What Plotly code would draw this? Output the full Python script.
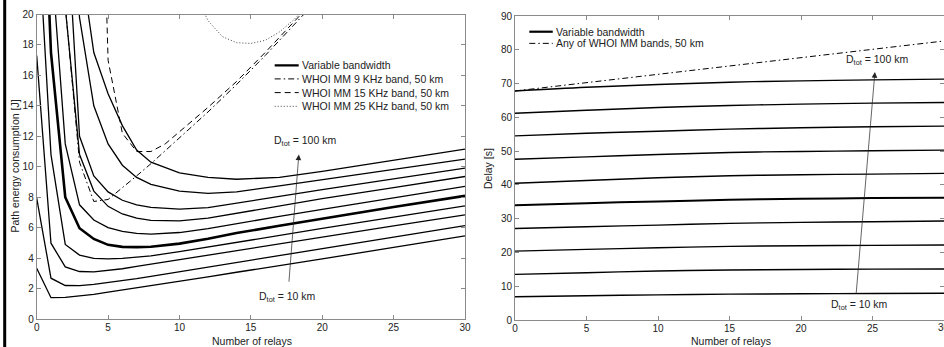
import plotly.graph_objects as go

# ---------------- data ----------------
relays = [0, 1, 2, 3, 4, 5, 6, 7, 8, 10, 12, 14, 17, 20, 25, 30]
dist_km = [10, 20, 30, 40, 50, 60, 70, 80, 90, 100]

energy_10 = [3.33, 1.40, 1.42, 1.50, 1.62, 1.76, 1.90, 2.04, 2.18, 2.46, 2.76, 3.07, 3.50, 3.95, 4.70, 5.46]
energy_20 = [7.94, 2.68, 2.20, 2.19, 2.27, 2.38, 2.51, 2.65, 2.80, 3.10, 3.41, 3.72, 4.17, 4.62, 5.38, 6.14]
energy_30 = [17.3, 4.98, 3.42, 3.12, 3.10, 3.18, 3.30, 3.45, 3.60, 3.90, 4.20, 4.51, 4.95, 5.39, 6.12, 6.84]
energy_40 = [27.2, 10.8, 4.90, 4.20, 3.98, 3.95, 3.98, 4.05, 4.15, 4.42, 4.73, 5.06, 5.50, 5.95, 6.69, 7.43]
energy_50 = [40.0, 17.5, 8.00, 5.96, 5.26, 4.87, 4.74, 4.72, 4.75, 4.95, 5.27, 5.65, 6.12, 6.60, 7.36, 8.09]
energy_60 = [80.0, 24.0, 11.5, 7.50, 6.50, 6.00, 5.75, 5.62, 5.58, 5.68, 5.93, 6.26, 6.74, 7.20, 7.95, 8.71]
energy_70 = [150., 45.0, 20.5, 10.8, 8.40, 7.40, 6.90, 6.62, 6.48, 6.45, 6.62, 6.95, 7.45, 7.90, 8.63, 9.36]
energy_80 = [250., 80.0, 28.0, 12.0, 9.40, 8.35, 7.80, 7.50, 7.33, 7.22, 7.32, 7.60, 8.05, 8.50, 9.20, 9.91]
energy_90 = [400., 120., 32.0, 19.8, 14.0, 11.5, 10.1, 9.30, 8.85, 8.40, 8.25, 8.35, 8.75, 9.15, 9.85, 10.5]
energy_100 = [600., 200., 50.0, 24.0, 17.5, 14.8, 12.7, 11.1, 10.3, 9.60, 9.30, 9.18, 9.30, 9.70, 10.45, 11.16]
energy_curves = [energy_10, energy_20, energy_30, energy_40, energy_50,
                 energy_60, energy_70, energy_80, energy_90, energy_100]

whoi9_relays = [1, 2, 3, 4, 5, 6, 7, 8, 10, 12, 14, 16, 18, 19]
whoi9_energy = [60.0, 20.6, 10.3, 7.72, 7.85, 8.6, 9.4, 10.2, 11.9, 13.6, 15.4, 17.3, 19.3, 20.3]
whoi15_relays = [4, 5, 6, 7, 8, 9, 10, 12, 14, 16, 18, 19]
whoi15_energy = [50.0, 17.0, 12.2, 11.0, 11.0, 11.5, 12.3, 13.9, 15.6, 17.5, 19.5, 20.5]
whoi25_relays = [11, 12, 13, 14, 15, 16, 17, 18, 19]
whoi25_energy = [21.5, 19.6, 18.55, 18.15, 18.1, 18.3, 18.85, 19.65, 20.6]

delay_relays = [0, 5, 10, 15, 20, 25, 30]
delay_10 = [6.9, 7.2, 7.45, 7.65, 7.75, 7.85, 7.9]
delay_20 = [13.5, 14.0, 14.5, 14.8, 14.95, 15.05, 15.1]
delay_30 = [20.4, 20.9, 21.4, 21.8, 22.0, 22.1, 22.2]
delay_40 = [27.1, 27.6, 28.1, 28.6, 28.9, 29.1, 29.3]
delay_50 = [34.0, 34.6, 35.1, 35.6, 35.9, 36.1, 36.2]
delay_60 = [40.5, 41.3, 42.1, 42.7, 43.0, 43.2, 43.4]
delay_70 = [47.6, 48.3, 49.0, 49.6, 49.9, 50.1, 50.3]
delay_80 = [54.5, 55.3, 55.9, 56.5, 56.9, 57.2, 57.4]
delay_90 = [61.2, 62.1, 62.9, 63.5, 63.9, 64.2, 64.4]
delay_100 = [67.8, 68.9, 69.7, 70.4, 70.8, 71.1, 71.3]
delay_curves = [delay_10, delay_20, delay_30, delay_40, delay_50,
                delay_60, delay_70, delay_80, delay_90, delay_100]
whoi_delay_relays = [0, 30]
whoi_delay = [67.8, 82.6]

x_ticks = [0, 5, 10, 15, 20, 25, 30]
energy_ticks = [0, 2, 4, 6, 8, 10, 12, 14, 16, 18, 20]
delay_ticks = [0, 10, 20, 30, 40, 50, 60, 70, 80, 90]

legend_left = ["Variable bandwidth", "WHOI MM 9 KHz band, 50 km",
               "WHOI MM 15 KHz band, 50 km", "WHOI MM 25 KHz band, 50 km"]
legend_right = ["Variable bandwidth", "Any of WHOI MM bands, 50 km"]

# ---------------- figure ----------------
W, H = 944, 347
FONT = "Liberation Sans, Arial, Helvetica, sans-serif"
DASHDOT = "6px,3px,1.5px,3px"
DASH = "6px,4px"
DOT = "1px,2px"

fig = go.Figure()

for d, ys in zip(dist_km, energy_curves):
    fig.add_trace(go.Scatter(x=relays, y=ys, mode="lines", xaxis="x", yaxis="y",
                             line=dict(color="black", width=2.6 if d == 50 else 1.3),
                             showlegend=False, name=f"{d} km"))
fig.add_trace(go.Scatter(x=whoi9_relays, y=whoi9_energy, mode="lines", xaxis="x", yaxis="y",
                         line=dict(color="black", width=1, dash=DASHDOT), showlegend=False))
fig.add_trace(go.Scatter(x=whoi15_relays, y=whoi15_energy, mode="lines", xaxis="x", yaxis="y",
                         line=dict(color="black", width=1, dash=DASH), showlegend=False))
fig.add_trace(go.Scatter(x=whoi25_relays, y=whoi25_energy, mode="lines", xaxis="x", yaxis="y",
                         line=dict(color="#444", width=1, dash=DOT), showlegend=False))

for d, ys in zip(dist_km, delay_curves):
    fig.add_trace(go.Scatter(x=delay_relays, y=ys, mode="lines", xaxis="x2", yaxis="y2",
                             line=dict(color="black", width=2.0 if d == 50 else 1.4),
                             line_shape="spline", showlegend=False, name=f"{d} km"))
fig.add_trace(go.Scatter(x=whoi_delay_relays, y=whoi_delay, mode="lines", xaxis="x2", yaxis="y2",
                         line=dict(color="black", width=1, dash=DASHDOT), showlegend=False))

axis_common = dict(showline=True, linecolor="#8a8a8a", linewidth=1, mirror="ticks",
                   ticks="inside", ticklen=4, tickcolor="#8a8a8a", showgrid=False,
                   zeroline=False, tickfont=dict(family=FONT, size=10, color="#222"),
                   fixedrange=True)

def px_x(p):
    return p / W

def px_y(p):
    return (H - p) / H

fig.update_layout(
    width=W, height=H, template="none",
    margin=dict(l=0, r=0, t=0, b=0),
    paper_bgcolor="white", plot_bgcolor="white",
    font=dict(family=FONT, size=10.5, color="#222"),
    xaxis=dict(domain=[px_x(36.7), px_x(465)], range=[0, 30], tickvals=x_ticks,
               anchor="y", ticklabelstandoff=-1, **axis_common),
    yaxis=dict(domain=[px_y(319), px_y(14.5)], range=[0, 20], tickvals=energy_ticks,
               anchor="x", **axis_common),
    xaxis2=dict(domain=[px_x(515), 1.0], range=[0, 30], tickvals=x_ticks,
                anchor="y2", ticklabelstandoff=-1, **axis_common),
    yaxis2=dict(domain=[px_y(320), px_y(16)], range=[0, 90], tickvals=delay_ticks,
                anchor="x2", **axis_common),
    showlegend=False,
)

shapes = []
annotations = []

# scan artefact: black bar at the left edge
shapes.append(dict(type="rect", xref="paper", yref="paper", x0=px_x(3.2), x1=px_x(6.2),
                   y0=0, y1=1, fillcolor="black", line=dict(width=0), layer="above"))

# left legend (drawn manually)
left_rows = [16.66, 15.77, 14.87, 13.97]
left_styles = [dict(width=2.2, dash="solid", color="black"),
               dict(width=1, dash=DASHDOT, color="black"),
               dict(width=1, dash=DASH, color="black"),
               dict(width=1, dash=DOT, color="#444")]
for label, yv, st in zip(legend_left, left_rows, left_styles):
    shapes.append(dict(type="line", xref="x", yref="y", x0=16.67, x1=18.35, y0=yv, y1=yv, line=st))
    annotations.append(dict(xref="x", yref="y", x=18.42, y=yv, text=label, showarrow=False,
                            xanchor="left", yanchor="middle",
                            font=dict(family=FONT, size=10.5, color="#222")))

right_rows = [85.35, 81.9]
right_styles = [dict(width=2.2, dash="solid", color="black"),
                dict(width=1, dash=DASHDOT, color="black")]
for label, yv, st in zip(legend_right, right_rows, right_styles):
    shapes.append(dict(type="line", xref="x2", yref="y2", x0=1.0, x1=2.64, y0=yv, y1=yv, line=st))
    annotations.append(dict(xref="x2", yref="y2", x=2.72, y=yv, text=label, showarrow=False,
                            xanchor="left", yanchor="middle",
                            font=dict(family=FONT, size=10.5, color="#222")))

ann_font = dict(family=FONT, size=10.5, color="#222")
# left plot arrow and labels
annotations.append(dict(xref="x", yref="y", axref="x", ayref="y", x=18.36, y=10.8,
                        ax=17.66, ay=2.35, text="", showarrow=True, arrowhead=2,
                        arrowsize=1.6, arrowwidth=0.7, arrowcolor="#222"))
annotations.append(dict(xref="x", yref="y", x=18.76, y=11.71, text="D<sub>tot</sub> = 100 km",
                        showarrow=False, xanchor="center", yanchor="middle", font=ann_font))
annotations.append(dict(xref="x", yref="y", x=17.54, y=1.45, text="D<sub>tot</sub> = 10 km",
                        showarrow=False, xanchor="center", yanchor="middle", font=ann_font))
# right plot arrow and labels
annotations.append(dict(xref="x2", yref="y2", axref="x2", ayref="y2", x=25.17, y=73.4,
                        ax=23.85, ay=7.4, text="", showarrow=True, arrowhead=2,
                        arrowsize=1.6, arrowwidth=0.7, arrowcolor="#222"))
annotations.append(dict(xref="x2", yref="y2", x=25.3, y=77.0, text="D<sub>tot</sub> = 100 km",
                        showarrow=False, xanchor="center", yanchor="middle", font=ann_font))
annotations.append(dict(xref="x2", yref="y2", x=24.06, y=4.3, text="D<sub>tot</sub> = 10 km",
                        showarrow=False, xanchor="center", yanchor="middle", font=ann_font))

# last tick label of the right plot, cut by the picture's right edge as in the original
annotations.append(dict(xref="paper", yref="paper", x=px_x(944), y=px_y(327),
                        text=str(x_ticks[-1]), showarrow=False, xanchor="center",
                        yanchor="middle", font=dict(family=FONT, size=10, color="#222")))

# axis titles
annotations.append(dict(xref="paper", yref="paper", x=px_x(14), y=px_y(166.5),
                        text="Path energy consumption [J]", textangle=-90, showarrow=False,
                        xanchor="center", yanchor="middle", font=ann_font))
annotations.append(dict(xref="paper", yref="paper", x=px_x(252), y=px_y(340.5),
                        text="Number of relays", showarrow=False,
                        xanchor="center", yanchor="middle", font=ann_font))
annotations.append(dict(xref="paper", yref="paper", x=px_x(488), y=px_y(168),
                        text="Delay [s]", textangle=-90, showarrow=False,
                        xanchor="center", yanchor="middle", font=ann_font))
annotations.append(dict(xref="paper", yref="paper", x=px_x(731), y=px_y(340.5),
                        text="Number of relays", showarrow=False,
                        xanchor="center", yanchor="middle", font=ann_font))

fig.update_layout(shapes=shapes, annotations=annotations)
# the page body has a default 8px margin; remove it so the figure fills the window
fig.write_html("out.html", config={"displayModeBar": False},
               post_script="document.body.style.margin='0';")
